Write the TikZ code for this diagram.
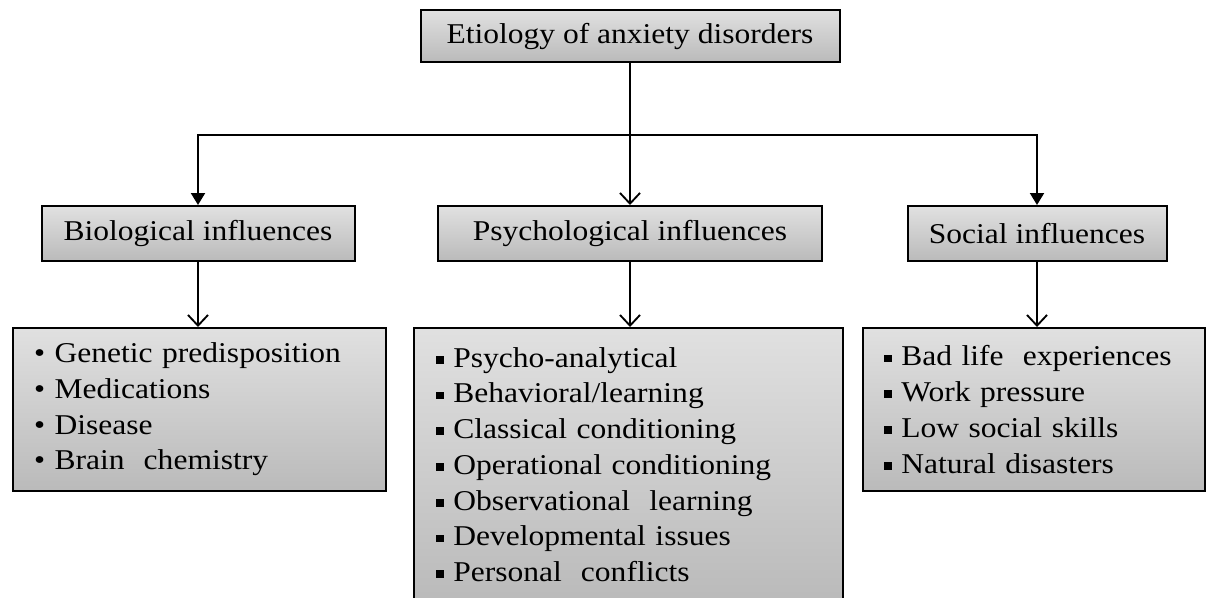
\documentclass[tikz,border=0pt]{standalone}
\usepackage{fontspec}
\setmainfont[FakeStretch=1.1]{Liberation Serif}
\usepackage{tikz}
\usetikzlibrary{shapes,arrows,arrows.meta}
\tikzstyle{block} = [rectangle, draw, line width=1.5pt, top color=black!12, bottom color=black!27,
    inner sep=0pt, minimum height=41.25pt, font=\fontsize{21.5}{26.8}\selectfont]
\tikzstyle{list} = [block, anchor=north west, align=left, inner xsep=15.75pt]
\tikzstyle{line} = [draw, line width=1.5pt, -{Triangle[length=9pt,width=10.5pt]}]
\tikzstyle{linev} = [draw, line width=1.4pt, -{Straight Barb[length=8pt,width=15pt]}]
\newcommand{\dotitem}{\textbullet\ }
\newcommand{\sqitem}{\rule[0.26ex]{0.27em}{0.27em}\ }

\begin{document}
\begin{tikzpicture}[x=0.75pt, y=-0.75pt]
    \useasboundingbox (0,0) rectangle (1206,597);
    % Place nodes
    \node [block, minimum width=314.25pt, minimum height=39pt] (etiology) at (630,36) {Etiology of anxiety disorders};
    \node [block, minimum width=234.75pt] (bio) at (198,233.5) {Biological influences};
    \node [block, minimum width=288pt] (psy) at (630,233.5) {Psychological influences};
    \node [block, minimum width=194.25pt] (soc) at (1037,233.5) {Social influences};
    \node [list, text width=248.25pt, minimum height=122.25pt] (biolist) at (12,327)
        {\dotitem Genetic predisposition\\ \dotitem Medications\\ \dotitem Disease\\ \dotitem Brain~\ chemistry};
    \node [list, inner xsep=16.5pt, text width=288.75pt, minimum height=204.75pt] (psylist) at (413,327)
        {\sqitem Psycho-analytical\\ \sqitem Behavioral/learning\\ \sqitem Classical conditioning\\
         \sqitem Operational conditioning\\ \sqitem Observational~\ learning\\
         \sqitem Developmental issues\\ \sqitem Personal~\ conflicts};
    \node [list, text width=225pt, minimum height=122.25pt] (soclist) at (862,327)
        {\sqitem Bad life~\ experiences\\ \sqitem Work pressure\\ \sqitem Low social skills\\ \sqitem Natural disasters};
    \coordinate (split) at (630,135);

    % Draw edges
    \draw [line width=1.5pt] (etiology.south) -- (split);
    \path [line] (split) -| (bio.north);
    \path [linev] (split) -- (psy.north -| split);
    \path [line] (split) -| (soc.north);
    \path [linev] (bio.south) -- (biolist.north -| bio.south);
    \path [linev] (psy.south) -- (psylist.north -| psy.south);
    \path [linev] (soc.south) -- (soclist.north -| soc.south);
\end{tikzpicture}
\end{document}
